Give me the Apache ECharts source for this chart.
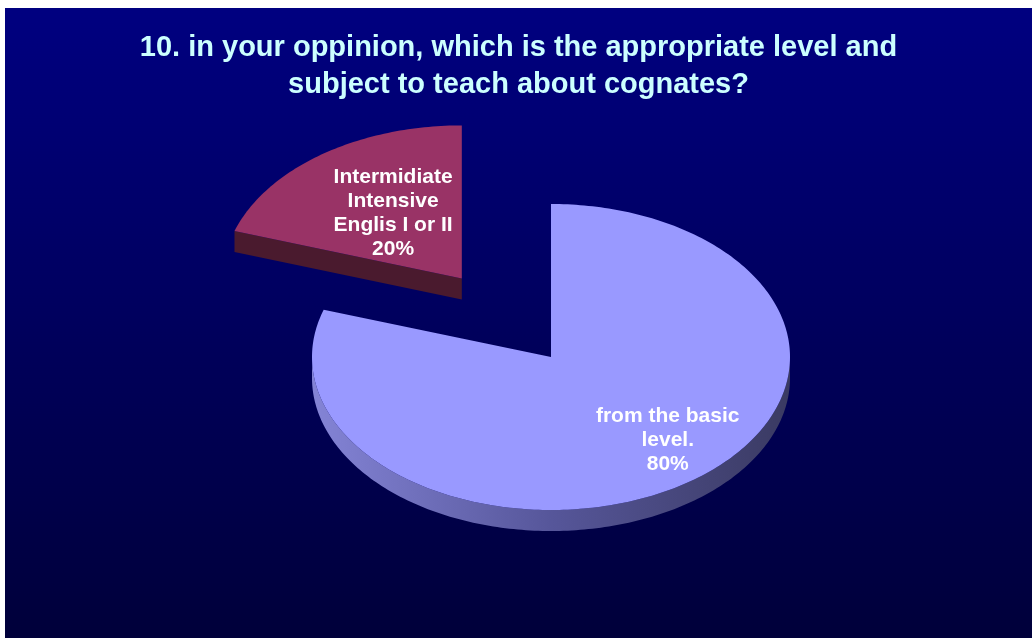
<!DOCTYPE html>
<html>
<head>
<meta charset="utf-8">
<script src="https://cdn.jsdelivr.net/npm/echarts@6/dist/echarts.min.js"></script>
<style>
  html, body { margin: 0; padding: 0; background: #ffffff; width: 1032px; height: 638px; overflow: hidden; }
  #chart { position: absolute; left: 5px; top: 8px; width: 1027px; height: 630px; }
</style>
</head>
<body>
<div id="chart"></div>
<script>
// ---- data ----
const titleText = '10. in your oppinion, which is the appropriate level and\nsubject to teach about cognates?';
const categories = ['from the basic\nlevel.', 'Intermidiate\nIntensive\nEnglis I or II'];
const values = [80, 20];

// ---- styles / layout ----
const faceColors = ['#9999ff', '#993366'];
const explode = [0, 0.635];
const CX = 546, CY = 349, RX = 239, RY = 153, DEPTH = 21;
const LABEL_KX = 0.66, LABEL_KY = 0.6, LABEL_SHIFT_X = 24, LABEL_SHIFT_Y = 9;

const chart = echarts.init(document.getElementById('chart'));
const total = values.reduce((a, b) => a + b, 0);
const rad = d => d * Math.PI / 180;

function sideFill(i) {
  if (i === 0) {
    return new echarts.graphic.LinearGradient(0, 0, 1, 0, [
      { offset: 0, color: '#8484d6' },
      { offset: 0.5, color: '#56569a' },
      { offset: 1, color: '#3a3a62' }
    ]);
  }
  return '#4a1a2e';
}

function renderItem(params, api) {
  const i = params.dataIndex;
  const v = api.value(0);
  let before = 0;
  for (let k = 0; k < i; k++) before += values[k];
  const start = before / total * 360;
  const end = start + v / total * 360;
  const mid = (start + end) / 2;
  const cx = CX + explode[i] * RX * Math.sin(rad(mid));
  const cy = CY - explode[i] * RY * Math.cos(rad(mid));
  const pt = (t, dz) => [cx + RX * Math.sin(rad(t)), cy - RY * Math.cos(rad(t)) + (dz || 0)];
  const arc = (a, b, dz) => {
    const pts = [];
    const n = Math.max(2, Math.ceil(Math.abs(b - a)));
    for (let s = 0; s <= n; s++) pts.push(pt(a + (b - a) * s / n, dz));
    return pts;
  };
  const children = [];
  const side = sideFill(i);
  // radial faces
  if (Math.sin(rad(start)) < -1e-6) {
    const p = pt(start);
    children.push({ type: 'polygon', shape: { points: [[cx, cy], p, [p[0], p[1] + DEPTH], [cx, cy + DEPTH]] }, style: { fill: side } });
  }
  if (Math.sin(rad(end)) > 1e-6) {
    const p = pt(end);
    children.push({ type: 'polygon', shape: { points: [[cx, cy], p, [p[0], p[1] + DEPTH], [cx, cy + DEPTH]] }, style: { fill: side } });
  }
  // outer front wall
  const a = Math.max(start, 90), b = Math.min(end, 270);
  if (b > a) {
    const pts = arc(a, b, 0).concat(arc(b, a, DEPTH));
    children.push({ type: 'polygon', shape: { points: pts }, style: { fill: side } });
  }
  // top face
  children.push({ type: 'polygon', shape: { points: [[cx, cy]].concat(arc(start, end, 0)) }, style: { fill: faceColors[i] } });
  // label
  const pct = Math.round(v / total * 100) + '%';
  children.push({
    type: 'text',
    style: {
      text: categories[i] + '\n' + pct,
      x: cx + LABEL_KX * RX * Math.sin(rad(mid)) + LABEL_SHIFT_X,
      y: cy - LABEL_KY * RY * Math.cos(rad(mid)) + LABEL_SHIFT_Y,
      fill: '#ffffff',
      fontFamily: 'Liberation Sans, Arial, sans-serif',
      fontWeight: 'bold',
      fontSize: 21,
      lineHeight: 24,
      align: 'center',
      verticalAlign: 'middle'
    }
  });
  return { type: 'group', children: children };
}

chart.setOption({
  animation: false,
  backgroundColor: new echarts.graphic.LinearGradient(0, 0, 0, 1, [
    { offset: 0, color: '#000080' },
    { offset: 1, color: '#00003a' }
  ]),
  title: {
    text: titleText,
    left: 'center',
    top: 16,
    textStyle: {
      color: '#ccffff',
      fontFamily: 'Liberation Sans, Arial, sans-serif',
      fontWeight: 'bold',
      fontSize: 29,
      lineHeight: 37,
      align: 'center'
    }
  },
  series: [{
    type: 'custom',
    coordinateSystem: 'none',
    renderItem: renderItem,
    data: values
  }]
});
</script>
</body>
</html>
